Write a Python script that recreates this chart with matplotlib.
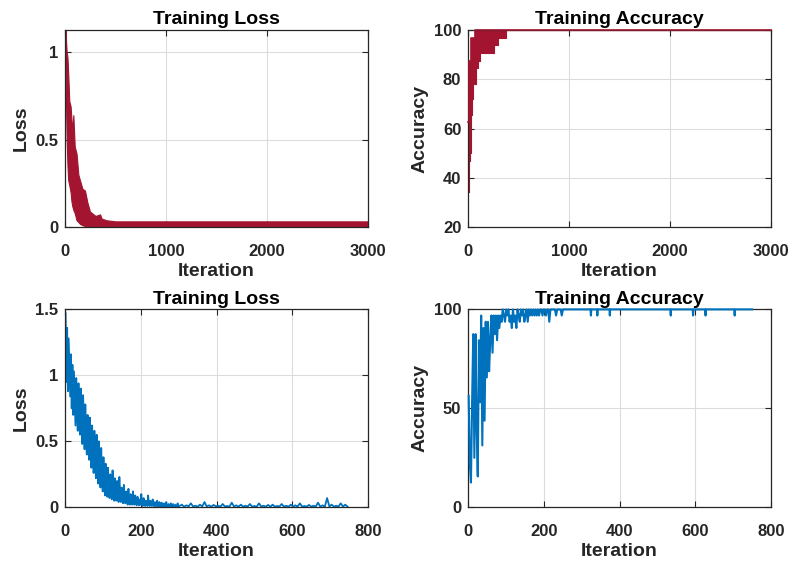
import numpy as np
import matplotlib
matplotlib.use("Agg")
import matplotlib.pyplot as plt

RED = "#A2142F"
BLUE = "#0072BD"
DARK = "#262626"

# --- top row: long run (3000 iterations), dense oscillating band ---
tl_iter = [1, 8, 14, 22, 29, 40, 53, 61, 70, 80, 94, 112, 130, 145, 170, 195, 220, 245, 300, 345, 360, 410, 500, 3000]
tl_upper = [1.13, 1.06, 1.0, 0.97, 0.88, 0.72, 0.69, 0.62, 0.55, 0.64, 0.46, 0.42, 0.30, 0.27, 0.22, 0.21, 0.14, 0.09, 0.065, 0.074, 0.05, 0.04, 0.034, 0.034]
tl_lower = [1.0, 0.69, 0.50, 0.35, 0.27, 0.24, 0.20, 0.15, 0.12, 0.10, 0.08, 0.04, 0.03, 0.02, 0.012, 0.008, 0.005, 0.004, 0.003, 0.002, 0.002, 0.002, 0.002, 0.002]

tr_iter = [1, 5, 8, 16, 25, 33, 40, 50, 70, 76, 100, 120, 250, 290, 375, 3000]
tr_upper = [62.5, 75.0, 87.5, 87.5, 96.9, 96.9, 96.9, 96.9, 100, 100, 100, 100, 100, 100, 100, 100]
tr_lower = [34.4, 40.6, 46.9, 50.0, 65.6, 68.75, 71.9, 78.1, 78.1, 84.4, 87.5, 90.6, 93.75, 96.9, 100, 100]

# --- bottom row: short run (750 iterations) ---
# iterations 1..299, every 2nd
bl_head = [1.47, 0.95, 1.36, 0.88, 1.28, 1.05, 0.84, 1.16, 0.75, 1.08,
           0.70, 1.03, 0.82, 0.62, 0.98, 0.72, 0.58, 0.94, 0.66, 0.55,
           0.90, 0.62, 0.48, 0.85, 0.70, 0.44, 0.78, 0.52, 0.40, 0.70,
           0.45, 0.36, 0.68, 0.55, 0.30, 0.62, 0.42, 0.26, 0.58, 0.35,
           0.22, 0.55, 0.40, 0.18, 0.50, 0.30, 0.15, 0.45, 0.25, 0.12,
           0.38, 0.20, 0.09, 0.33, 0.15, 0.08, 0.30, 0.12, 0.07, 0.25,
           0.10, 0.06, 0.28, 0.14, 0.05, 0.22, 0.09, 0.05, 0.20, 0.08,
           0.04, 0.23, 0.10, 0.04, 0.15, 0.06, 0.03, 0.17, 0.05, 0.03,
           0.12, 0.05, 0.02, 0.14, 0.04, 0.02, 0.10, 0.04, 0.02, 0.12,
           0.03, 0.02, 0.09, 0.03, 0.015, 0.08, 0.03, 0.015, 0.06, 0.02,
           0.10, 0.02, 0.01, 0.07, 0.02, 0.01, 0.05, 0.02, 0.01, 0.09,
           0.02, 0.01, 0.05, 0.015, 0.01, 0.06, 0.015, 0.008, 0.04, 0.012,
           0.008, 0.05, 0.01, 0.007, 0.04, 0.01, 0.006, 0.035, 0.01, 0.006,
           0.03, 0.008, 0.005, 0.04, 0.008, 0.005, 0.025, 0.007, 0.005, 0.03,
           0.006, 0.005, 0.025, 0.006, 0.004, 0.02, 0.006, 0.004, 0.03, 0.005]
# iterations 302..746, every 6th
bl_tail = [0.01, 0.02, 0.005, 0.015, 0.008, 0.03, 0.006, 0.012, 0.005, 0.02,
           0.007, 0.04, 0.006, 0.015, 0.005, 0.018, 0.008, 0.012, 0.005, 0.025,
           0.006, 0.01, 0.005, 0.035, 0.006, 0.015, 0.005, 0.02, 0.005, 0.012,
           0.006, 0.025, 0.005, 0.01, 0.005, 0.03, 0.006, 0.012, 0.005, 0.018,
           0.005, 0.02, 0.005, 0.01, 0.006, 0.025, 0.005, 0.012, 0.005, 0.02,
           0.005, 0.015, 0.006, 0.03, 0.005, 0.01, 0.005, 0.018, 0.005, 0.012,
           0.006, 0.035, 0.005, 0.015, 0.005, 0.07, 0.006, 0.02, 0.005, 0.012,
           0.005, 0.03, 0.006, 0.02, 0.005]

# iterations 1..250, every 3rd
br_head = [56.25, 21.9, 12.5, 53.1, 87.5, 25.0, 87.5, 40.6, 15.6, 84.4,
           53.1, 96.9, 31.25, 90.6, 43.75, 93.75, 65.6, 93.75, 68.75, 84.4,
           96.9, 78.1, 96.9, 87.5, 96.9, 84.4, 96.9, 90.6, 96.9, 93.75,
           100, 96.9, 93.75, 100, 96.9, 100, 93.75, 96.9, 90.6, 100,
           93.75, 96.9, 90.6, 100, 96.9, 93.75, 100, 96.9, 100, 93.75,
           96.9, 100, 93.75, 100, 96.9, 100, 96.9, 100, 96.9, 100,
           96.9, 100, 96.9, 100, 100, 96.9, 100, 100, 96.9, 100,
           100, 93.75, 100, 100, 100, 100, 100, 96.9, 100, 100,
           100, 100, 96.9, 100]
br_tail_x = [253, 323, 324, 325, 340, 341, 342, 373, 374, 375, 534, 535, 536,
             593, 594, 595, 626, 627, 628, 703, 704, 705, 750]
br_tail_y = [100, 100, 96.9, 100, 100, 96.9, 100, 100, 96.9, 100, 100, 96.9, 100,
             100, 96.9, 100, 100, 96.9, 100, 100, 96.9, 100, 100]


def style_axes(ax, title, ylabel, xlim, xticks, ylim, yticks):
    ax.set_xlim(*xlim)
    ax.set_ylim(*ylim)
    ax.set_xticks(xticks)
    ax.set_yticks(yticks)
    ax.set_yticklabels([f"{v:g}" for v in yticks])
    ax.set_title(title, fontsize=14, fontweight="bold", color="black", pad=4)
    ax.set_xlabel("Iteration", fontsize=14, fontweight="bold", color=DARK, labelpad=3)
    ax.set_ylabel(ylabel, fontsize=14, fontweight="bold", color=DARK, labelpad=4)
    ax.grid(True, color="#dcdcdc", linewidth=0.8)
    ax.set_axisbelow(True)
    ax.tick_params(direction="in", length=4, width=0.8, top=True, right=True,
                   labelsize=12, colors=DARK)
    ax.tick_params(axis="x", pad=12)
    ax.tick_params(axis="y", pad=5)
    for lab in ax.get_xticklabels() + ax.get_yticklabels():
        lab.set_fontweight("bold")
    for sp in ax.spines.values():
        sp.set_color(DARK)
        sp.set_linewidth(0.9)


plt.rcParams["font.family"] = ["Liberation Sans", "DejaVu Sans"]
fig = plt.figure(figsize=(7.92, 5.61), dpi=100)

ax1 = fig.add_axes([0.0824, 0.5948, 0.3822, 0.3517])
ax1.fill_between(tl_iter, tl_lower, tl_upper, color=RED, linewidth=0.8, edgecolor=RED)
style_axes(ax1, "Training Loss", "Loss", (0, 3000), [0, 1000, 2000, 3000], (0, 1.126), [0, 0.5, 1])

ax2 = fig.add_axes([0.5913, 0.5948, 0.3822, 0.3517])
ax2.fill_between(tr_iter, tr_lower, tr_upper, step="post", color=RED, linewidth=0.8, edgecolor=RED)
ax2.step(tr_iter, tr_upper, where="post", color=RED, linewidth=1.2, clip_on=False, zorder=5)
style_axes(ax2, "Training Accuracy", "Accuracy", (0, 3000), [0, 1000, 2000, 3000], (20, 100), [20, 40, 60, 80, 100])

bl_x = np.concatenate([np.arange(1, 1 + 2 * len(bl_head), 2), np.arange(302, 302 + 6 * len(bl_tail), 6)])
bl_y = bl_head + bl_tail
ax3 = fig.add_axes([0.0824, 0.0957, 0.3822, 0.3528])
ax3.plot(bl_x, bl_y, color=BLUE, linewidth=1.3)
style_axes(ax3, "Training Loss", "Loss", (0, 800), [0, 200, 400, 600, 800], (0, 1.5), [0, 0.5, 1, 1.5])

br_x = list(np.arange(1, 1 + 3 * len(br_head), 3)) + br_tail_x
br_y = br_head + br_tail_y
ax4 = fig.add_axes([0.5913, 0.0957, 0.3822, 0.3528])
ax4.plot(br_x, br_y, color=BLUE, linewidth=1.5, clip_on=False, zorder=5)
style_axes(ax4, "Training Accuracy", "Accuracy", (0, 800), [0, 200, 400, 600, 800], (0, 100), [0, 50, 100])

fig.savefig("out.png", dpi=100)
